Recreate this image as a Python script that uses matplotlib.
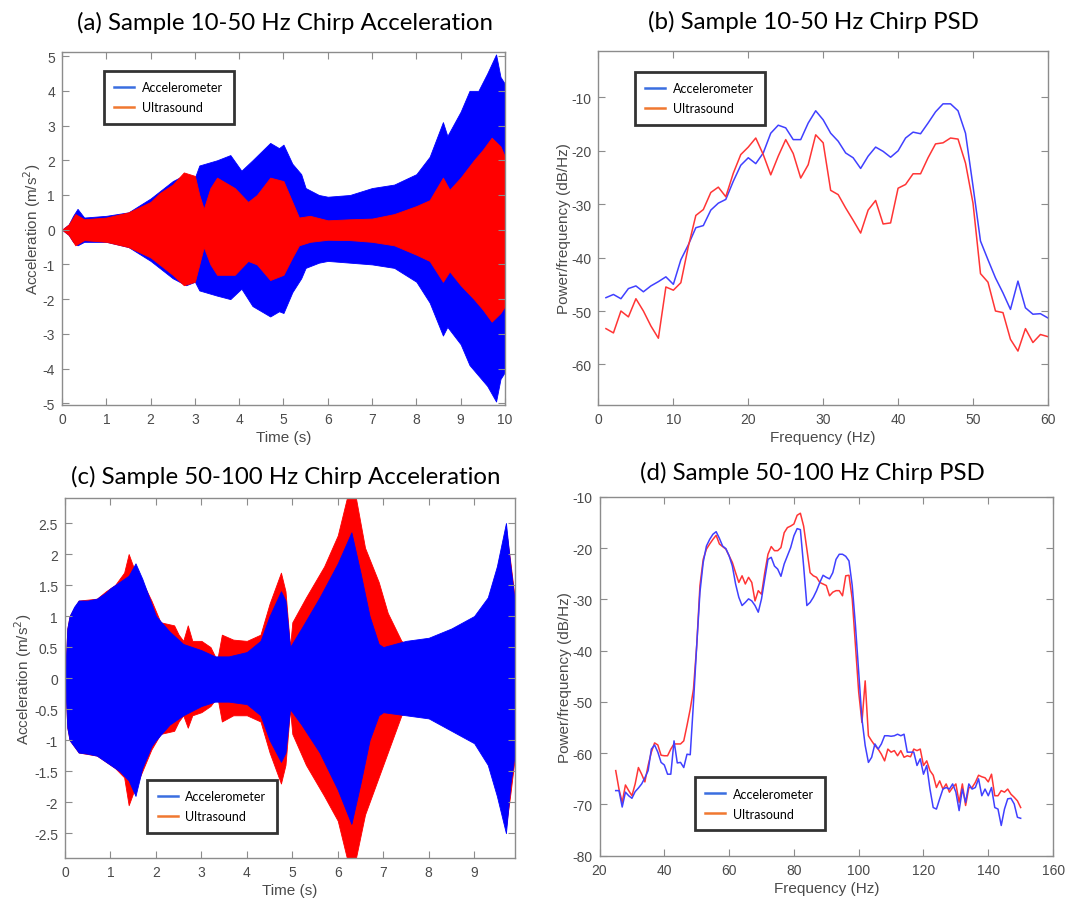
import matplotlib.pyplot as plt
from matplotlib.lines import Line2D
import numpy as np

plt.rcParams['axes.unicode_minus'] = False

# (a) 10-50 Hz chirp: envelope of the acceleration trace (m/s^2)
t_a_acc = [0, 0.15, 0.25, 0.35, 0.5, 1.0, 1.5, 2.0, 2.5, 2.8,
           3.0, 3.1, 3.5, 3.8, 4.05, 4.3, 4.7, 4.9, 5.0, 5.2,
           5.4, 5.5, 5.8, 6.0, 6.5, 7.0, 7.5, 8.0, 8.3, 8.6,
           8.7, 9.0, 9.2, 9.4, 9.6, 9.8, 9.9, 10.0]
acc_a_hi = [0, 0.15, 0.4, 0.6, 0.35, 0.4, 0.5, 0.9, 1.4, 1.6,
            1.5, 1.85, 2.0, 2.15, 1.7, 2.0, 2.5, 2.35, 2.45, 1.9,
            1.6, 1.2, 1.0, 0.95, 1.0, 1.2, 1.3, 1.6, 2.1, 3.1,
            2.7, 3.4, 4.0, 4.0, 4.5, 5.05, 4.4, 4.2]
acc_a_lo = [0, -0.15, -0.35, -0.45, -0.35, -0.35, -0.5, -0.9, -1.4, -1.6,
            -1.5, -1.75, -1.9, -2.0, -1.7, -2.2, -2.5, -2.35, -2.4, -1.8,
            -1.4, -1.1, -0.95, -0.9, -0.95, -1.0, -1.1, -1.5, -2.1, -3.05,
            -2.8, -3.3, -3.9, -4.2, -4.5, -4.95, -4.3, -4.1]

t_a_ult = [0, 0.15, 0.3, 0.5, 1.0, 1.5, 2.0, 2.2, 2.5, 2.75,
           3.0, 3.1, 3.2, 3.35, 3.5, 3.9, 4.2, 4.4, 4.7, 5.0,
           5.2, 5.35, 5.6, 6.0, 6.5, 7.0, 7.5, 8.0, 8.3, 8.6,
           8.75, 9.0, 9.3, 9.5, 9.7, 9.9, 10.0]
ult_a_hi = [0, 0.15, 0.45, 0.3, 0.35, 0.5, 0.8, 1.05, 1.3, 1.65,
            1.55, 1.0, 0.6, 1.2, 1.5, 1.2, 0.8, 1.0, 1.5, 1.4,
            0.8, 0.35, 0.4, 0.27, 0.3, 0.32, 0.45, 0.68, 0.85, 1.5,
            1.15, 1.5, 2.0, 2.3, 2.65, 2.4, 2.1]
ult_a_lo = [0, -0.15, -0.45, -0.3, -0.35, -0.5, -0.8, -1.0, -1.3, -1.6,
            -1.5, -1.0, -0.5, -1.0, -1.3, -1.3, -0.9, -1.0, -1.45, -1.3,
            -0.8, -0.45, -0.35, -0.29, -0.3, -0.35, -0.45, -0.72, -0.9, -1.5,
            -1.2, -1.6, -2.0, -2.3, -2.65, -2.4, -2.2]

# (b) 10-50 Hz chirp PSD (dB/Hz), 1..60 Hz
f_b = np.arange(1, 61)
psd_b_acc = [-47.5, -46.9, -47.7, -45.8, -45.3, -46.4, -45.3, -44.5, -43.6, -45.0,
             -40.4, -37.6, -34.4, -34.0, -31.1, -29.8, -29.1, -25.7, -22.7, -21.3,
             -22.4, -20.4, -16.7, -15.2, -15.7, -17.9, -17.9, -14.8, -12.5, -14.2,
             -16.7, -18.2, -20.4, -21.3, -23.3, -21.0, -19.3, -20.1, -21.2, -20.0,
             -17.6, -16.5, -16.8, -14.8, -12.7, -11.2, -11.2, -12.5, -16.7, -26.6,
             -36.9, -40.4, -43.8, -46.6, -49.7, -44.4, -49.4, -50.6, -50.5, -51.3]
psd_b_ult = [-53.3, -54.1, -50.0, -51.1, -47.7, -50.0, -52.8, -55.1, -45.5, -46.1,
             -44.7, -37.9, -32.1, -31.0, -27.8, -26.8, -28.6, -24.2, -20.7, -19.3,
             -17.6, -20.7, -24.5, -21.0, -17.9, -20.5, -25.1, -22.6, -17.0, -18.5,
             -27.4, -28.2, -30.7, -33.0, -35.4, -31.1, -29.3, -33.7, -33.5, -27.0,
             -26.3, -24.3, -24.3, -21.3, -18.7, -18.5, -17.6, -17.8, -22.3, -29.8,
             -43.0, -44.6, -50.0, -50.3, -55.3, -57.5, -53.3, -55.9, -54.4, -54.8]

# (c) 50-100 Hz chirp: envelope of the acceleration trace (m/s^2)
t_c_acc = [0, 0.05, 0.1, 0.2, 0.3, 0.5, 0.7, 0.9, 1.0, 1.2,
           1.4, 1.55, 1.7, 1.9, 2.0, 2.3, 2.6, 3.0, 3.3, 3.6,
           4.0, 4.3, 4.5, 4.75, 4.85, 4.95, 5.2, 5.6, 6.0, 6.3,
           6.5, 6.7, 6.9, 7.0, 7.5, 8.0, 8.5, 9.0, 9.3, 9.5,
           9.7, 9.8, 9.9]
acc_c_hi = [0, 0.8, 1.0, 1.15, 1.25, 1.25, 1.28, 1.38, 1.45, 1.55,
            1.65, 1.85, 1.6, 1.2, 1.0, 0.75, 0.55, 0.45, 0.35, 0.35,
            0.42, 0.6, 1.0, 1.4, 1.25, 0.5, 0.8, 1.3, 1.85, 2.35,
            1.7, 1.0, 0.55, 0.5, 0.6, 0.65, 0.8, 1.0, 1.3, 1.8,
            2.5, 1.8, 1.2]
acc_c_lo = [0, -0.8, -1.0, -1.1, -1.2, -1.22, -1.25, -1.35, -1.4, -1.5,
            -1.65, -1.9, -1.45, -1.1, -1.0, -0.75, -0.6, -0.45, -0.38, -0.38,
            -0.42, -0.6, -1.0, -1.35, -1.2, -0.5, -0.75, -1.2, -1.8, -2.35,
            -1.7, -1.0, -0.6, -0.55, -0.6, -0.65, -0.85, -1.05, -1.4, -1.9,
            -2.5, -1.7, -1.2]

t_c_ult = [0, 0.05, 0.1, 0.3, 0.7, 0.9, 1.1, 1.3, 1.4, 1.5,
           1.7, 1.9, 2.1, 2.4, 2.5, 2.6, 2.7, 2.8, 3.0, 3.2,
           3.3, 3.35, 3.45, 3.7, 4.0, 4.3, 4.5, 4.75, 4.85, 4.95,
           5.0, 5.3, 5.7, 6.0, 6.2, 6.3, 6.4, 6.6, 6.9, 7.1,
           7.4, 7.5, 8.0, 8.5, 9.0, 9.3, 9.5, 9.7, 9.8, 9.9]
ult_c_hi = [0, 0.8, 1.0, 1.25, 1.28, 1.4, 1.5, 1.7, 2.0, 1.8,
            1.55, 1.25, 0.9, 0.85, 0.7, 0.6, 0.85, 0.6, 0.6, 0.5,
            0.35, 0.3, 0.7, 0.62, 0.6, 0.7, 1.2, 1.7, 1.4, 0.5,
            0.9, 1.3, 1.8, 2.3, 2.9, 3.0, 2.9, 2.1, 1.55, 1.05,
            0.6, 0.55, 0.6, 0.75, 0.95, 1.25, 1.75, 2.4, 1.85, 1.25]
ult_c_lo = [0, -0.8, -1.0, -1.2, -1.25, -1.35, -1.45, -1.6, -2.05, -1.85,
            -1.5, -1.15, -0.9, -0.85, -0.7, -0.6, -0.8, -0.6, -0.55, -0.45,
            -0.35, -0.3, -0.7, -0.6, -0.6, -0.7, -1.2, -1.7, -1.4, -0.5,
            -0.9, -1.4, -1.9, -2.3, -2.9, -3.0, -2.9, -2.2, -1.6, -1.2,
            -0.6, -0.55, -0.6, -0.75, -0.95, -1.25, -1.75, -2.4, -1.85, -1.25]

# (d) 50-100 Hz chirp PSD (dB/Hz), 25..150 Hz
f_d = np.arange(25, 151)
psd_d_acc = [-67.3, -67.3, -70.5, -67.6, -68.3, -68.8, -67.5, -66.8, -66.0, -64.8,
             -63.4, -59.2, -58.4, -59.8, -61.8, -62.3, -64.1, -64.1, -57.6, -61.9,
             -61.8, -62.8, -60.2, -60.3, -50.1, -39.0, -28.6, -22.8, -19.6, -18.3,
             -17.3, -16.8, -18.1, -19.6, -20.1, -21.5, -23.5, -27.0, -29.6, -31.2,
             -30.6, -29.9, -30.3, -31.2, -32.5, -29.9, -26.0, -22.2, -21.8, -23.5,
             -24.1, -25.5, -23.1, -21.5, -19.9, -17.6, -16.2, -16.4, -23.5, -31.2,
             -30.6, -29.6, -28.3, -26.7, -25.3, -25.7, -26.0, -24.8, -22.2, -21.2,
             -21.2, -21.6, -22.5, -27.3, -35.1, -44.2, -53.3, -58.5, -61.8, -60.8,
             -58.2, -59.2, -58.2, -56.6, -56.6, -56.7, -56.6, -56.3, -56.6, -56.3,
             -59.8, -59.8, -59.8, -62.4, -61.1, -64.1, -62.4, -67.0, -70.6, -70.9,
             -68.9, -67.0, -66.7, -67.0, -66.0, -67.6, -71.2, -67.0, -69.6, -66.0,
             -67.0, -66.7, -65.0, -68.3, -67.0, -68.3, -66.7, -70.6, -70.9, -74.1,
             -70.9, -68.9, -68.8, -69.9, -72.5, -72.7]
psd_d_ult = [-63.4, -67.0, -69.6, -66.2, -67.3, -68.3, -66.0, -62.8, -64.1, -65.6,
             -62.4, -59.8, -58.0, -58.4, -60.4, -60.5, -60.5, -59.2, -58.2, -58.2,
             -58.2, -57.6, -54.6, -51.4, -47.5, -39.0, -27.3, -22.2, -20.2, -19.2,
             -18.3, -17.5, -19.2, -19.7, -20.2, -21.5, -22.8, -24.8, -26.7, -25.4,
             -27.0, -25.7, -26.7, -30.3, -28.3, -29.0, -24.8, -21.2, -19.7, -20.5,
             -20.5, -19.9, -17.0, -16.0, -15.7, -15.3, -13.6, -13.2, -15.7, -20.2,
             -24.8, -25.4, -25.7, -26.7, -27.0, -27.3, -29.3, -28.6, -28.3, -28.3,
             -29.3, -25.4, -25.3, -29.9, -39.0, -48.1, -54.0, -45.9, -56.6, -57.6,
             -58.5, -59.2, -60.2, -61.5, -59.2, -59.8, -59.5, -60.5, -59.5, -60.8,
             -60.5, -60.7, -59.2, -59.5, -59.2, -62.4, -61.5, -63.4, -64.3, -66.7,
             -65.4, -67.0, -66.0, -67.6, -66.7, -66.0, -69.6, -66.0, -70.2, -66.7,
             -66.7, -65.7, -64.3, -64.6, -64.8, -65.6, -64.1, -68.3, -68.3, -67.3,
             -67.6, -67.0, -68.0, -68.6, -69.3, -70.6]

fill_blue = '#0000ff'
fill_red = '#ff0000'
line_blue = '#4040ff'
line_red = '#ff3535'
leg_blue = '#3a6ee0'
leg_orange = '#f07830'
spine_gray = '#8c8c8c'
text_gray = '#4a4a4a'

fig = plt.figure(figsize=(10.75, 9.04), dpi=100)
ax_a = fig.add_axes([0.0577, 0.5509, 0.412, 0.3905])
ax_b = fig.add_axes([0.5567, 0.5509, 0.4181, 0.3916])
ax_c = fig.add_axes([0.0605, 0.0498, 0.4186, 0.398])
ax_d = fig.add_axes([0.5577, 0.0523, 0.4219, 0.397])


def style(ax):
    for s in ax.spines.values():
        s.set_color(spine_gray)
        s.set_linewidth(1.0)
    ax.tick_params(direction='in', top=True, right=True, length=5, width=0.8,
                   color=spine_gray, labelcolor=text_gray, labelsize=10, pad=5)
    for lab in ax.get_xticklabels() + ax.get_yticklabels():
        lab.set_fontfamily('Liberation Sans')


def add_legend(ax, anchor):
    handles = [Line2D([], [], color=leg_blue, lw=1.8),
               Line2D([], [], color=leg_orange, lw=1.8)]
    leg = ax.legend(handles, ['Accelerometer', 'Ultrasound'], loc='upper left',
                    bbox_to_anchor=anchor, frameon=True, fancybox=False,
                    prop={'family': 'Lato', 'size': 9}, handlelength=1.6,
                    borderpad=0.85, labelspacing=0.65, handletextpad=0.6,
                    borderaxespad=0)
    leg.get_frame().set_edgecolor('black')
    leg.get_frame().set_linewidth(2.0)


def axis_labels(ax, xl, yl):
    ax.set_xlabel(xl, fontsize=11, color=text_gray, family='Liberation Sans', labelpad=3)
    ax.set_ylabel(yl, fontsize=11, color=text_gray, family='Liberation Sans', labelpad=0)


# (a)
ax_a.fill_between(t_a_acc, acc_a_lo, acc_a_hi, color=fill_blue, lw=0.6)
ax_a.fill_between(t_a_ult, ult_a_lo, ult_a_hi, color=fill_red, lw=0.6)
ax_a.set_xlim(0, 10)
ax_a.set_ylim(-5.05, 5.12)
ax_a.set_xticks(range(0, 11))
ax_a.set_yticks(range(-5, 6))
style(ax_a)
axis_labels(ax_a, 'Time (s)', 'Acceleration (m/s$^2$)')
add_legend(ax_a, (0.094, 0.947))

# (b)
ax_b.plot(f_b, psd_b_acc, color=line_blue, lw=1.1)
ax_b.plot(f_b, psd_b_ult, color=line_red, lw=1.1)
ax_b.set_xlim(0, 60)
ax_b.set_ylim(-67.6, -1.3)
ax_b.set_xticks(range(0, 61, 10))
ax_b.set_yticks(range(-60, 0, 10))
style(ax_b)
axis_labels(ax_b, 'Frequency (Hz)', 'Power/frequency (dB/Hz)')
add_legend(ax_b, (0.081, 0.9415))

# (c)
ax_c.fill_between(t_c_ult, ult_c_lo, ult_c_hi, color=fill_red, lw=0.6)
ax_c.fill_between(t_c_acc, acc_c_lo, acc_c_hi, color=fill_blue, lw=0.6)
ax_c.set_xlim(0, 9.9)
ax_c.set_ylim(-2.9, 2.9)
ax_c.set_xticks(range(0, 10))
ax_c.set_yticks([-2.5, -2, -1.5, -1, -0.5, 0, 0.5, 1, 1.5, 2, 2.5])
ax_c.set_yticklabels(['-2.5', '-2', '-1.5', '-1', '-0.5', '0', '0.5', '1', '1.5', '2', '2.5'])
style(ax_c)
axis_labels(ax_c, 'Time (s)', 'Acceleration (m/s$^2$)')
add_legend(ax_c, (0.182, 0.2175))

# (d)
ax_d.plot(f_d, psd_d_ult, color=line_red, lw=1.1)
ax_d.plot(f_d, psd_d_acc, color=line_blue, lw=1.1)
ax_d.set_xlim(20, 160)
ax_d.set_ylim(-80, -10)
ax_d.set_xticks(range(20, 161, 20))
ax_d.set_yticks(range(-80, -9, 10))
style(ax_d)
axis_labels(ax_d, 'Frequency (Hz)', 'Power/frequency (dB/Hz)')
add_legend(ax_d, (0.210, 0.219))

title_kw = dict(fontsize=17.3, family='Lato', ha='center', va='center', color='black')
fig.text(285 / 1075, 1 - 23 / 904, '(a) Sample 10-50 Hz Chirp Acceleration', **title_kw)
fig.text(813 / 1075, 1 - 22 / 904, '(b) Sample 10-50 Hz Chirp PSD', **title_kw)
fig.text(286 / 1075, 1 - 477 / 904, '(c) Sample 50-100 Hz Chirp Acceleration', **title_kw)
fig.text(812 / 1075, 1 - 473 / 904, '(d) Sample 50-100 Hz Chirp PSD', **title_kw)

fig.savefig('out.png', dpi=100)
